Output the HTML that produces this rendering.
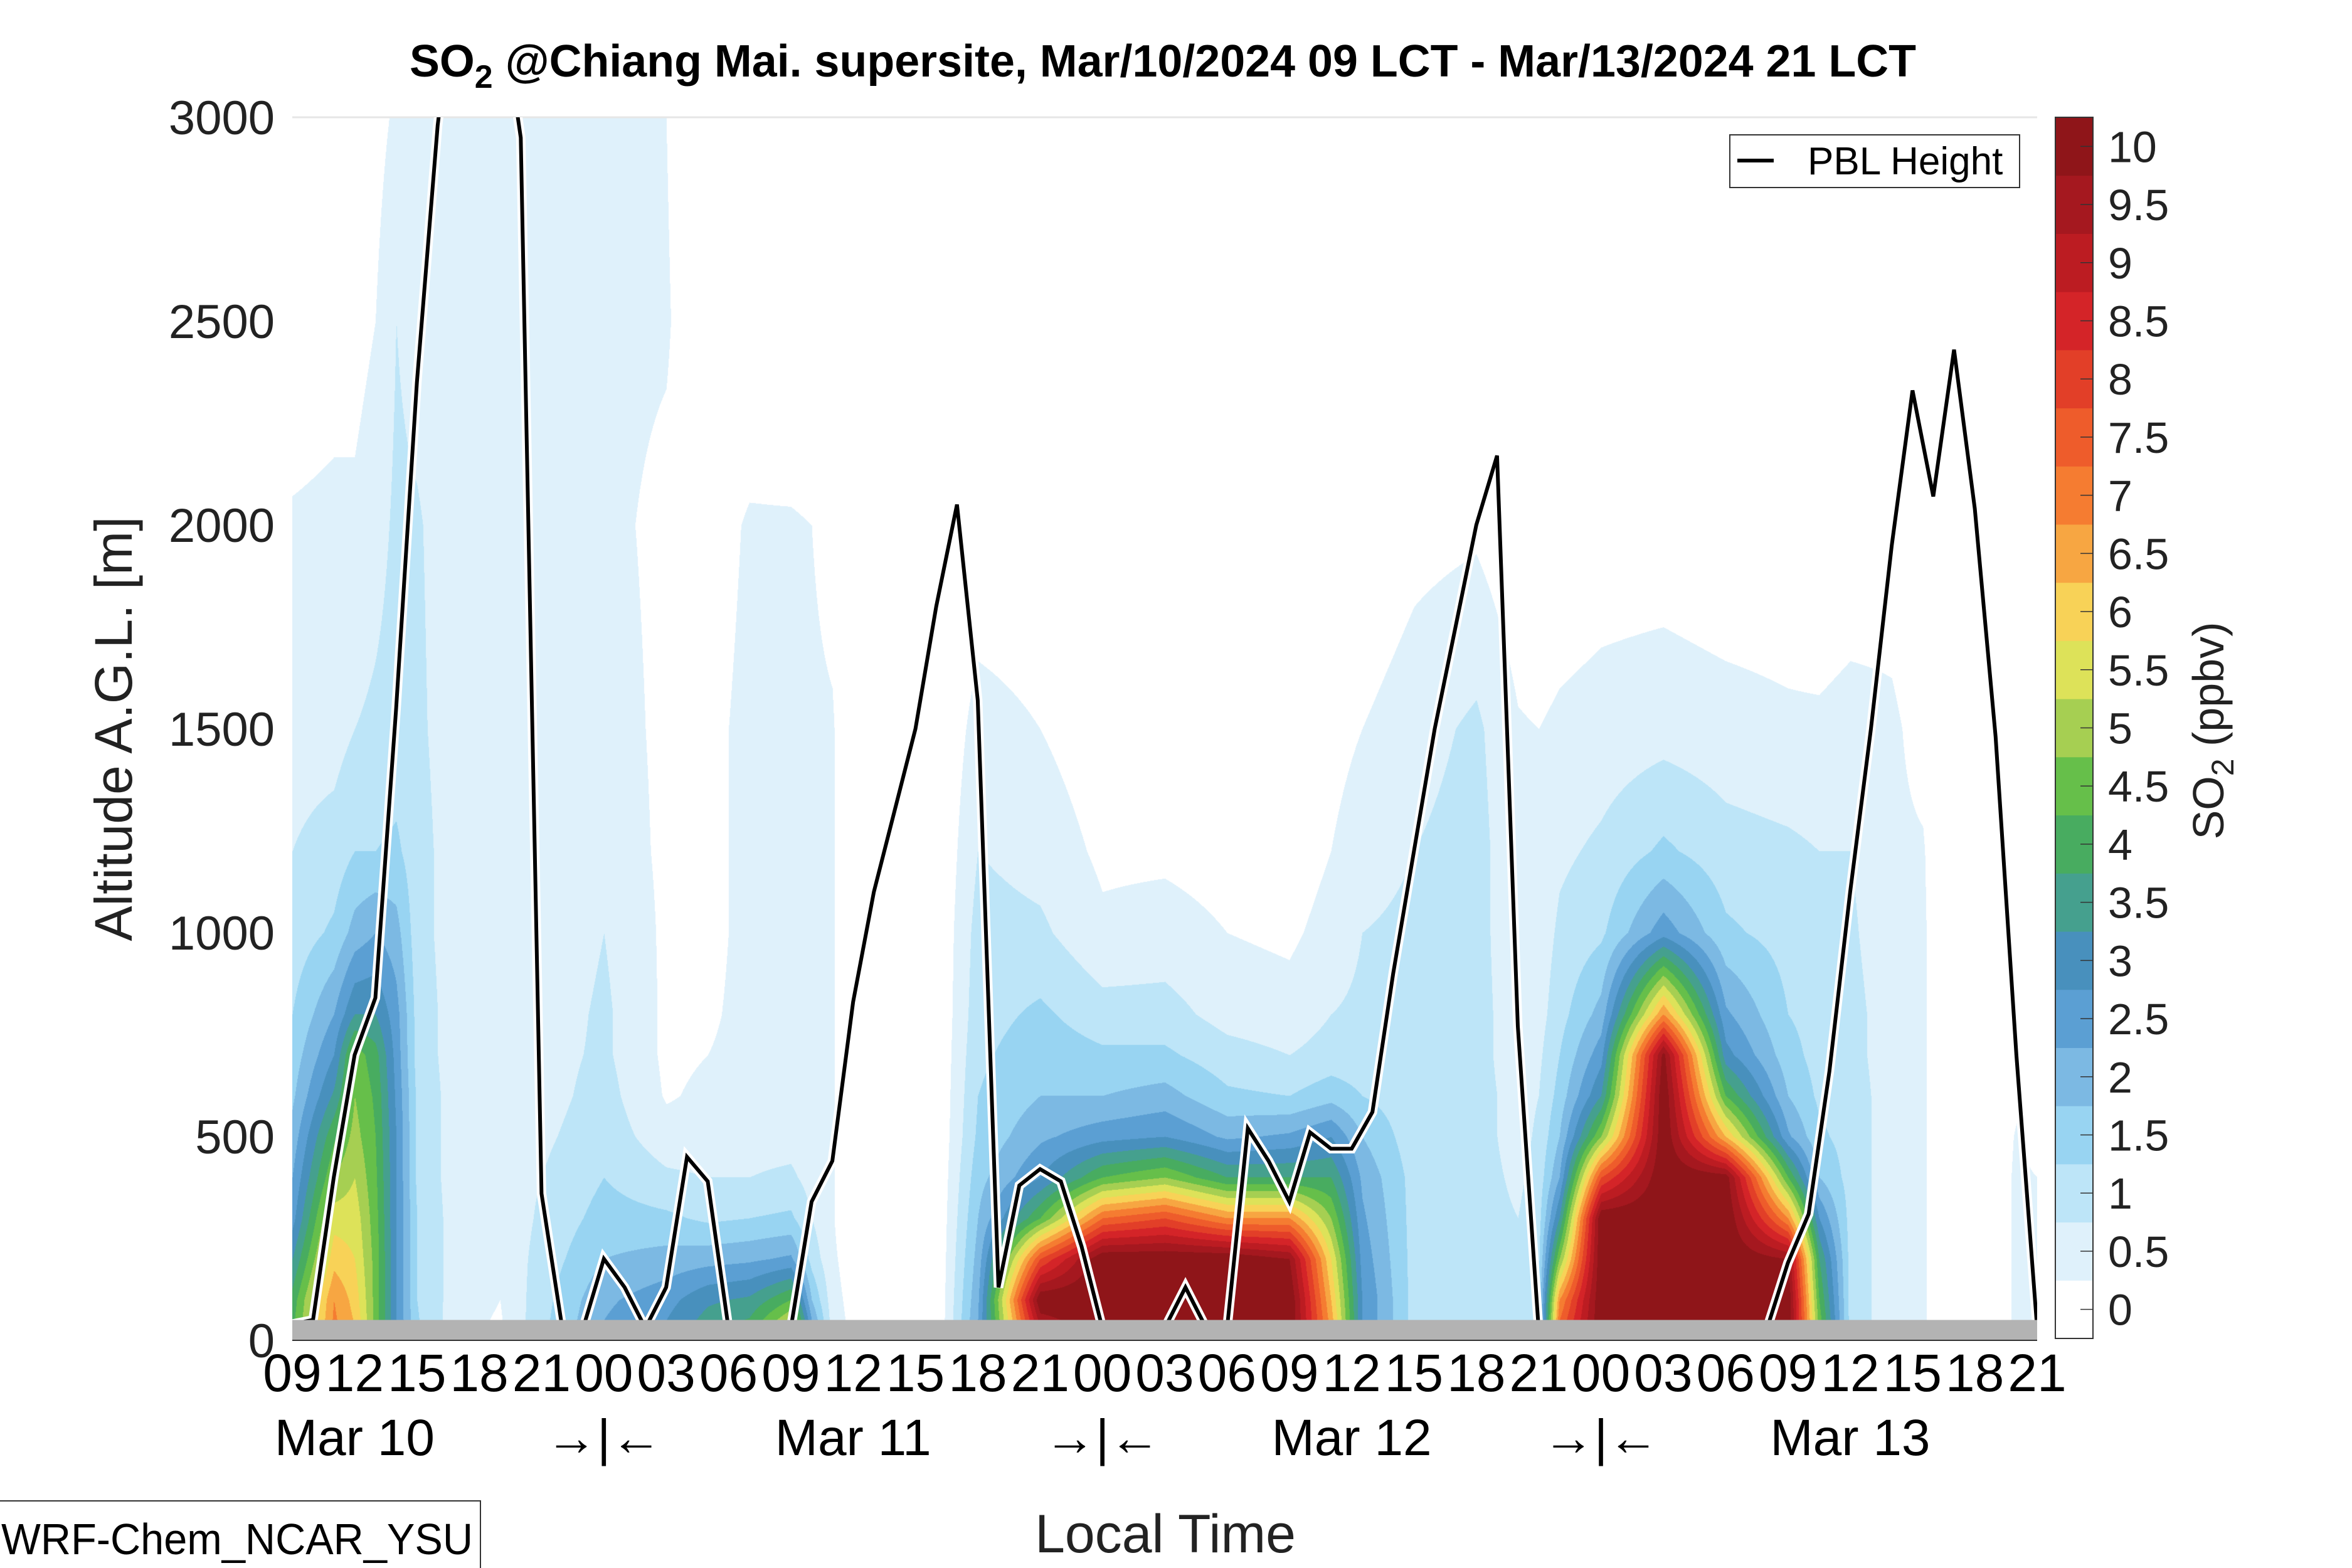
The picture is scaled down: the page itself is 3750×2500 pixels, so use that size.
<!DOCTYPE html>
<html><head><meta charset="utf-8">
<style>
html,body{margin:0;padding:0;background:#fff;}
#wrap{position:relative;width:3750px;height:2500px;overflow:hidden;font-family:"Liberation Sans",sans-serif;}
#field{position:absolute;left:466px;top:187px;}
svg{position:absolute;left:0;top:0;}
</style></head>
<body>
<div id="wrap">
<canvas id="field" width="2782" height="1950"></canvas>
<svg id="svg" width="3750" height="2500"></svg>
</div>
<script>
// ---- data ----
const colHours = [0,2,3,4,5,6,8,10,12,15,18,20,22,24,25,26,27,30,31,33,36,39,42,45,48,50,51.5,54,57,59,60,61,63,66,69,72,73.5,75,77,78.5,79.5,81.5,83,84];
const rowHeights = [0,100,200,300,400,500,600,700,800,1000,1200,1500,2000,2500,3000];
const so2 = [
[4.5,4.2,3.5,2.8,2.5,2.2,1.9,1.7,1.5,1.2,1.0,0.8,0.55,0.2,0.1],
[7.2,7.0,6.3,5.8,5.0,4.4,3.6,3.0,2.5,1.6,1.2,0.8,0.6,0.3,0.2],
[6.6,6.3,6.0,5.8,5.5,5.2,5.0,4.8,3.5,2.2,1.5,1.0,0.6,0.3,0.2],
[4.8,4.8,4.8,4.7,4.6,4.5,4.4,4.2,3.5,2.5,1.5,1.1,0.8,0.5,0.3],
[3.0,3.0,3.0,3.0,3.0,3.0,2.9,2.8,2.7,2.2,1.6,1.2,1.1,1.0,0.6],
[1.6,1.5,1.5,1.5,1.4,1.4,1.4,1.3,1.3,1.2,1.2,1.1,1.05,0.8,0.6],
[0.6,0.7,0.7,0.7,0.7,0.7,0.7,0.7,0.7,0.7,0.7,0.7,0.7,0.7,0.7],
[0.4,0.5,0.6,0.6,0.7,0.7,0.7,0.7,0.7,0.7,0.7,0.7,0.7,0.7,0.7],
[1.4,1.3,1.2,1.1,1.0,0.9,0.8,0.8,0.7,0.6,0.6,0.6,0.6,0.6,0.6],
[2.6,2.4,2.0,1.7,1.5,1.3,1.2,1.1,1.1,1.0,0.8,0.7,0.6,0.6,0.6],
[3.2,2.8,2.2,1.6,1.1,0.7,0.45,0.4,0.4,0.4,0.4,0.4,0.4,0.55,0.5],
[4.0,3.4,2.3,1.4,1.0,0.7,0.6,0.5,0.45,0.4,0.4,0.4,0.3,0.1,0],
[4.5,3.6,2.4,1.5,1.0,0.8,0.6,0.6,0.6,0.6,0.6,0.6,0.55,0.1,0],
[6.5,4.5,2.6,1.6,1.1,0.8,0.6,0.6,0.6,0.6,0.6,0.6,0.55,0,0],
[3,2,1.3,1.0,0.8,0.6,0.6,0.6,0.6,0.6,0.6,0.6,0.5,0,0],
[0.8,0.7,0.6,0.55,0.55,0.55,0.55,0.55,0.55,0.55,0.55,0.55,0.3,0,0],
[0.4,0.3,0.2,0,0,0,0,0,0,0,0,0,0,0,0],
[0,0,0,0,0,0,0,0,0,0,0,0,0,0,0],
[0,0,0,0,0,0,0,0,0,0,0,0,0,0,0],
[2.6,2.4,2.2,2.0,1.8,1.6,1.5,1.4,1.3,1.2,1.0,0.7,0.1,0,0],
[9,10.5,8,4.5,3,2.4,2.0,1.8,1.6,1.1,0.8,0.5,0.1,0,0],
[10.5,10.5,10.5,7.5,4.5,2.8,2.0,1.6,1.2,0.6,0.4,0.2,0,0,0],
[10.5,10.5,10.5,8,5,3,2.2,1.6,1.2,0.7,0.4,0.2,0,0,0],
[10.5,10.5,10.5,7,4,2.4,1.6,1.2,0.8,0.5,0.3,0.1,0,0,0],
[10.5,10.5,10,7,4,2.6,1.5,1.0,0.7,0.4,0.2,0.1,0,0,0],
[7,6.5,6,5,4,3,1.8,1.2,1.0,0.7,0.5,0.3,0,0,0],
[3,3,2.8,2.6,2.4,2.0,1.5,1.2,1.1,1.0,0.8,0.5,0,0,0],
[1.3,1.3,1.3,1.3,1.3,1.2,1.2,1.2,1.1,1.1,1.0,0.8,0.3,0,0],
[1.2,1.2,1.2,1.2,1.2,1.2,1.2,1.2,1.2,1.2,1.2,1.1,0.4,0,0],
[1.0,1.0,1.0,1.0,0.9,0.8,0.8,0.7,0.7,0.6,0.6,0.55,0.1,0,0],
[1.6,1.5,1.4,1.3,1.2,1.1,1.0,0.9,0.8,0.7,0.6,0.5,0,0,0],
[8,7,5,3.5,2.5,2,1.7,1.5,1.3,1.1,0.9,0.6,0.1,0,0],
[10.5,10.5,10.5,10.5,8,5,3.5,2.8,2.2,1.4,1.1,0.7,0.2,0,0],
[10.5,10.5,10.5,10.5,10.5,10.5,10.5,10.2,7,2.8,1.6,0.8,0.2,0,0],
[10.5,10.5,10.5,10.5,10.3,6.5,4.5,3.2,2.6,1.6,1.2,0.7,0.1,0,0],
[10.5,10.5,10,7,4.5,2.6,2,1.7,1.5,1.3,1.1,0.6,0.1,0,0],
[5,4.5,4,3,2,1.6,1.4,1.3,1.3,1.2,1.0,0.6,0,0,0],
[1.3,1.3,1.3,1.3,1.3,1.3,1.3,1.2,1.2,1.1,1.0,0.7,0.1,0,0],
[0.7,0.7,0.7,0.7,0.7,0.7,0.7,0.7,0.7,0.6,0.6,0.6,0.2,0,0],
[0.6,0.6,0.6,0.6,0.6,0.6,0.6,0.6,0.6,0.6,0.55,0.3,0,0,0],
[0,0,0,0,0,0,0,0,0,0,0,0,0,0,0],
[0,0,0,0,0,0,0,0,0,0,0,0,0,0,0],
[0.6,0.6,0.6,0.6,0.6,0.55,0.4,0.2,0,0,0,0,0,0,0],
[0.6,0.6,0.6,0.55,0.5,0.3,0,0,0,0,0,0,0,0,0]
];
const pblHeight = [40,50,400,700,840,1550,2350,2980,3400,3500,3300,2950,360,30,30,200,130,30,130,450,390,30,30,30,30,340,440,830,1100,1300,1500,1800,2050,1570,130,380,420,390,230,30,30,30,30,130,30,30,520,440,340,510,470,470,560,900,1200,1500,1750,2000,2170,770,30,30,30,30,30,30,30,30,30,30,30,30,190,310,660,1100,1500,1950,2330,2070,2430,2040,1480,700,30];
const hourLabels = ["09","12","15","18","21","00","03","06","09","12","15","18","21","00","03","06","09","12","15","18","21","00","03","06","09","12","15","18","21"];
const dayLabels = ["Mar 10","\u2192|\u2190","Mar 11","\u2192|\u2190","Mar 12","\u2192|\u2190","Mar 13"];
const dayLabelHours = [3,15,27,39,51,63,75];
const yTicks = [0,500,1000,1500,2000,2500,3000];
const cbLabels = ["0","0.5","1","1.5","2","2.5","3","3.5","4","4.5","5","5.5","6","6.5","7","7.5","8","8.5","9","9.5","10"];
const levelColors = ["#ffffff","#dff1fb","#bde5f8","#98d4f2","#7cb9e3","#5b9fd3","#4890bd","#45a08e","#48ac60","#66bf4a","#a6cf52","#dde259","#f8d257","#f7a642","#f57c31","#ee5c2b","#e23f28","#d42428","#bc1c22","#a5181f","#8f1519"];

// ---- axes ----
const PL=466, PR=3248, PT=187, PB=2137, HMAX=84, ZMAX=3000;
const xS = h => PL + (h/HMAX)*(PR-PL);
const yS = z => PB - (z/ZMAX)*(PB-PT);

// ---- field ----
(function(){
  const cv=document.getElementById('field'), ctx=cv.getContext('2d');
  const W=cv.width, H=cv.height, img=ctx.createImageData(W,H), d=img.data;
  const rgb=levelColors.map(c=>[parseInt(c.substr(1,2),16),parseInt(c.substr(3,2),16),parseInt(c.substr(5,2),16)]);
  const rowIdx=[],rowF=[];
  for(let py=0;py<H;py++){
    const z=(H-py)/H*ZMAX; let j=0;
    while(j<rowHeights.length-2 && z>rowHeights[j+1]) j++;
    rowIdx.push(j); rowF.push(Math.min(1,Math.max(0,(z-rowHeights[j])/(rowHeights[j+1]-rowHeights[j]))));
  }
  for(let px=0;px<W;px++){
    const h=px/W*HMAX; let i=0;
    while(i<colHours.length-2 && h>colHours[i+1]) i++;
    const f=Math.min(1,Math.max(0,(h-colHours[i])/(colHours[i+1]-colHours[i])));
    const c0=so2[i], c1=so2[i+1];
    for(let py=0;py<H;py++){
      const j=rowIdx[py], g=rowF[py];
      const a=c0[j]*(1-f)+c1[j]*f, b=c0[j+1]*(1-f)+c1[j+1]*f;
      const v=a*(1-g)+b*g;
      let k=Math.floor(v/0.5); if(k<0)k=0; if(k>20)k=20;
      const o=(py*W+px)*4, c=rgb[k];
      d[o]=c[0];d[o+1]=c[1];d[o+2]=c[2];d[o+3]=255;
    }
  }
  ctx.putImageData(img,0,0);
})();

// ---- svg overlay ----
const NS='http://www.w3.org/2000/svg', svg=document.getElementById('svg');
function mk(tag,attrs,parent){const e=document.createElementNS(NS,tag);for(const k in attrs)e.setAttribute(k,attrs[k]);(parent||svg).appendChild(e);return e;}

const defs=mk('defs',{});
const cp=mk('clipPath',{id:'plotclip'},defs);
mk('rect',{x:PL,y:PT,width:PR-PL,height:PB-PT},cp);

let e;
e=mk('line',{x1:PL,y1:PT,x2:PR,y2:PT,stroke:'#e6e6e6','stroke-width':3});



// PBL line
const pts=pblHeight.map((z,i)=>xS(i).toFixed(1)+','+yS(z).toFixed(1)).join(' ');
const g=mk('g',{'clip-path':'url(#plotclip)'});


e=mk('polyline',{points:pts,fill:'none',stroke:'#fff','stroke-width':15,'stroke-linejoin':'miter'},g);


e=mk('polyline',{points:pts,fill:'none',stroke:'#000','stroke-width':6,'stroke-linejoin':'miter'},g);



// ground band
e=mk('rect',{x:PL,y:yS(50),width:PR-PL,height:PB-yS(50),fill:'#b3b3b3'});


e=mk('line',{x1:PL,y1:PB,x2:PR,y2:PB,stroke:'#333','stroke-width':2});



// y ticks
yTicks.forEach(v=>{
  const t=mk('text',{x:438,y:yS(v)+27,'text-anchor':'end','font-size':76,fill:'#222'});
  t.textContent=v;
  
  
});
e=mk('text',{x:0,y:0,transform:'translate(210,1162) rotate(-90)','text-anchor':'middle','font-size':84,fill:'#222'});
e.textContent='Altitude A.G.L. [m]';



// x ticks
hourLabels.forEach((s,i)=>{
  const t=mk('text',{x:xS(i*3),y:2218,'text-anchor':'middle','font-size':84,fill:'#000'});
  t.textContent=s;
  
  
});
dayLabels.forEach((s,i)=>{
  const t=mk('text',{x:xS(dayLabelHours[i]),y:2320,'text-anchor':'middle','font-size':82,fill:'#000'});
  t.textContent=s;
  
  
});
e=mk('text',{x:1858,y:2475,'text-anchor':'middle','font-size':86,fill:'#222'});
e.textContent='Local Time';



// title
e=mk('text',{x:653,y:122,'font-size':72,'font-weight':'bold',fill:'#000',textLength:2402,lengthAdjust:'spacingAndGlyphs'});
e.innerHTML='SO<tspan font-size="52" dy="18">2</tspan><tspan dy="-18"> @Chiang Mai. supersite, Mar/10/2024 09 LCT - Mar/13/2024 21 LCT</tspan>';



// legend
const lg=mk('g',{});


e=mk('rect',{x:2758,y:215,width:462,height:84,fill:'#fff',stroke:'#333','stroke-width':2},lg);


e=mk('line',{x1:2770,y1:256,x2:2828,y2:256,stroke:'#000','stroke-width':6},lg);


e=mk('text',{x:2882,y:278,'font-size':62,fill:'#000'},lg);
e.textContent='PBL Height';



// colorbar
const CBL=3277, CBR=3337, CBT=187, CBB=2134, bh=(CBB-CBT)/levelColors.length;
levelColors.forEach((c,i)=>{
  const r=mk('rect',{x:CBL,y:CBB-(i+1)*bh,width:CBR-CBL,height:bh+0.5,fill:c});
  
  
  const tk=mk('line',{x1:CBR-20,y1:CBB-(i+0.5)*bh,x2:CBR,y2:CBB-(i+0.5)*bh,stroke:'#333','stroke-width':1.5});
  
  
  const t=mk('text',{x:3361,y:CBB-(i+0.5)*bh+25,'font-size':70,fill:'#222'});
  t.textContent=cbLabels[i];
  
  
});
e=mk('rect',{x:CBL,y:CBT,width:CBR-CBL,height:CBB-CBT,fill:'none',stroke:'#333','stroke-width':2});


e=mk('text',{x:0,y:0,transform:'translate(3545,1165) rotate(-90)','text-anchor':'middle','font-size':70,fill:'#222'});
e.innerHTML='SO<tspan font-size="50" dy="16">2</tspan><tspan dy="-16"> (ppbv)</tspan>';



// model label
e=mk('rect',{x:-2,y:2393,width:768,height:110,fill:'#fff',stroke:'#333','stroke-width':2});


e=mk('text',{x:2,y:2478,'font-size':70,fill:'#000',textLength:752,lengthAdjust:'spacingAndGlyphs'});
e.textContent='WRF-Chem_NCAR_YSU';


</script>
</body></html>
